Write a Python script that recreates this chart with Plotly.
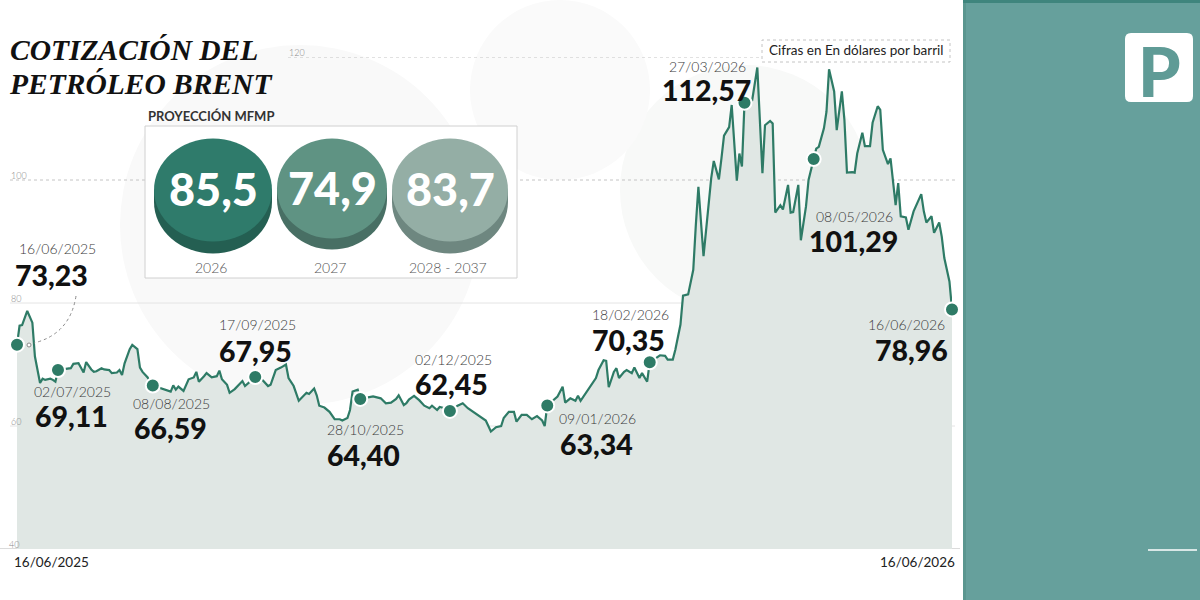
import plotly.graph_objects as go

# ---------------- DATA ----------------
dates = [
    "2025-06-16", "2025-06-17", "2025-06-18", "2025-06-20", "2025-06-22", "2025-06-23", "2025-06-25",
    "2025-06-26", "2025-06-27", "2025-06-29", "2025-06-30", "2025-07-01", "2025-07-02", "2025-07-07",
    "2025-07-08", "2025-07-10", "2025-07-12", "2025-07-13", "2025-07-15", "2025-07-16", "2025-07-17",
    "2025-07-19", "2025-07-20", "2025-07-22", "2025-07-23", "2025-07-25", "2025-07-26", "2025-07-27",
    "2025-07-28", "2025-07-30", "2025-07-31", "2025-08-02", "2025-08-03", "2025-08-04", "2025-08-06",
    "2025-08-07", "2025-08-08", "2025-08-13", "2025-08-15", "2025-08-16", "2025-08-17", "2025-08-18",
    "2025-08-20", "2025-08-22", "2025-08-24", "2025-08-25", "2025-08-26", "2025-08-28", "2025-08-29",
    "2025-08-31", "2025-09-02", "2025-09-03", "2025-09-04", "2025-09-06", "2025-09-07", "2025-09-09",
    "2025-09-10", "2025-09-12", "2025-09-13", "2025-09-15", "2025-09-17", "2025-09-20", "2025-09-22",
    "2025-09-23", "2025-09-25", "2025-09-27", "2025-09-29", "2025-09-30", "2025-10-02", "2025-10-04",
    "2025-10-06", "2025-10-07", "2025-10-08", "2025-10-10", "2025-10-11", "2025-10-12", "2025-10-14",
    "2025-10-16", "2025-10-18", "2025-10-20", "2025-10-21", "2025-10-23", "2025-10-24", "2025-10-25",
    "2025-10-27", "2025-10-28", "2025-11-02", "2025-11-05", "2025-11-07", "2025-11-09", "2025-11-11",
    "2025-11-12", "2025-11-14", "2025-11-15", "2025-11-16", "2025-11-18", "2025-11-20", "2025-11-22",
    "2025-11-24", "2025-11-25", "2025-11-27", "2025-11-28", "2025-11-30", "2025-12-02", "2025-12-05",
    "2025-12-07", "2025-12-09", "2025-12-11", "2025-12-12", "2025-12-14", "2025-12-16", "2025-12-18",
    "2025-12-20", "2025-12-22", "2025-12-23", "2025-12-25", "2025-12-27", "2025-12-28", "2025-12-30",
    "2026-01-01", "2026-01-02", "2026-01-03", "2026-01-05", "2026-01-07", "2026-01-08", "2026-01-09",
    "2026-01-13", "2026-01-15", "2026-01-16", "2026-01-18", "2026-01-20", "2026-01-21", "2026-01-22",
    "2026-01-24", "2026-01-26", "2026-01-28", "2026-01-29", "2026-01-31", "2026-02-01", "2026-02-02",
    "2026-02-04", "2026-02-05", "2026-02-06", "2026-02-08", "2026-02-09", "2026-02-11", "2026-02-12",
    "2026-02-14", "2026-02-15", "2026-02-17", "2026-02-18", "2026-02-22", "2026-02-24", "2026-02-25",
    "2026-02-27", "2026-02-28", "2026-03-02", "2026-03-03", "2026-03-05", "2026-03-07", "2026-03-08",
    "2026-03-09", "2026-03-11", "2026-03-12", "2026-03-14", "2026-03-15", "2026-03-17", "2026-03-18",
    "2026-03-19", "2026-03-21", "2026-03-22", "2026-03-24", "2026-03-25", "2026-03-26", "2026-03-27",
    "2026-03-30", "2026-04-01", "2026-04-03", "2026-04-04", "2026-04-06", "2026-04-07", "2026-04-08",
    "2026-04-10", "2026-04-11", "2026-04-13", "2026-04-14", "2026-04-15", "2026-04-17", "2026-04-18",
    "2026-04-20", "2026-04-21", "2026-04-23", "2026-04-24", "2026-04-25", "2026-04-27", "2026-04-28",
    "2026-04-29", "2026-05-01", "2026-05-02", "2026-05-04", "2026-05-05", "2026-05-06", "2026-05-08",
    "2026-05-09", "2026-05-10", "2026-05-12", "2026-05-13", "2026-05-15", "2026-05-16", "2026-05-18",
    "2026-05-19", "2026-05-20", "2026-05-22", "2026-05-23", "2026-05-25", "2026-05-26", "2026-05-27",
    "2026-05-29", "2026-05-30", "2026-06-01", "2026-06-02", "2026-06-04", "2026-06-05", "2026-06-06",
    "2026-06-08", "2026-06-09", "2026-06-11", "2026-06-12", "2026-06-13", "2026-06-15", "2026-06-16",
]
prices = [
    73.23, 76.3, 76.4, 78.7, 76.8, 71.3, 67.0,
    67.7, 67.5, 67.7, 67.5, 67.2, 69.11, 69.4,
    70.1, 70.2, 68.7, 70.4, 69.2, 68.8, 68.9,
    69.4, 69.2, 69.1, 68.6, 68.7, 69.1, 68.3,
    70.2, 72.5, 73.2, 72.5, 69.5, 68.8, 67.9,
    67.0, 66.59, 65.9, 65.6, 66.6, 65.9, 66.4,
    65.7, 67.6, 67.9, 68.8, 67.2, 68.1, 68.6,
    67.9, 68.1, 69.0, 67.6, 66.7, 65.4, 66.0,
    66.4, 67.3, 66.5, 67.3, 67.95, 67.4, 66.5,
    66.7, 69.1, 69.5, 70.0, 67.8, 66.5, 64.1,
    64.9, 65.4, 65.2, 66.1, 65.0, 63.3, 63.0,
    62.3, 61.1, 61.1, 60.9, 61.3, 62.6, 65.6,
    65.9, 64.40, 64.8, 64.5, 63.7, 63.8, 64.4,
    65.0, 63.4, 63.7, 64.3, 64.9, 64.2, 63.3,
    62.9, 63.3, 62.6, 63.1, 62.9, 62.45, 63.3,
    63.7, 62.9, 62.3, 62.0, 61.4, 60.9, 59.1,
    59.8, 60.0, 61.3, 62.3, 62.3, 60.7, 61.8,
    61.8, 61.5, 61.1, 61.6, 60.9, 60.0, 63.34,
    64.8, 66.4, 63.8, 64.5, 64.1, 64.9, 64.1,
    65.3, 66.7, 67.8, 69.1, 70.7, 70.6, 66.3,
    68.8, 69.4, 67.8, 68.8, 69.1, 68.6, 69.5,
    67.8, 68.6, 67.2, 70.35, 71.5, 71.4, 70.8,
    70.8, 72.4, 76.5, 81.2, 81.4, 85.4, 92.7,
    98.9, 87.6, 91.9, 100.3, 103.1, 100.1, 103.5,
    107.2, 108.6, 112.2, 99.9, 104.3, 102.2, 112.57,
    113.0, 118.3, 101.1, 108.9, 109.6, 109.2, 94.7,
    95.9, 95.2, 99.2, 94.7, 94.8, 99.2, 90.2,
    95.7, 100.0, 103.4, 105.1, 105.4, 108.4, 111.1,
    118.0, 114.4, 108.1, 114.4, 109.8, 101.2, 101.29,
    101.2, 104.3, 107.7, 105.5, 105.5, 109.3, 112.0,
    111.4, 104.9, 102.6, 103.5, 95.9, 99.5, 94.1,
    93.9, 91.9, 94.9, 95.9, 97.7, 94.9, 93.1,
    94.1, 91.4, 93.1, 90.8, 87.3, 83.5, 78.96,
]

dot_dates = ["2025-06-16", "2025-07-02", "2025-08-08", "2025-09-17", "2025-10-28", "2025-12-02",
             "2026-01-09", "2026-02-18", "2026-03-27", "2026-04-23", "2026-06-16"]
label_dates = ["16/06/2025", "02/07/2025", "08/08/2025", "17/09/2025", "28/10/2025", "02/12/2025",
               "09/01/2026", "18/02/2026", "27/03/2026", "08/05/2026", "16/06/2026"]
label_values = [73.23, 69.11, 66.59, 67.95, 64.40, 62.45, 63.34, 70.35, 112.57, 101.29, 78.96]

proj_values = [85.5, 74.9, 83.7]
proj_periods = ["2026", "2027", "2028 - 2037"]

y_ticks = [40, 60, 80, 100, 120]
x_tick_dates = ["2025-06-16", "2026-06-16"]
x_tick_labels = ["16/06/2025", "16/06/2026"]

title_lines = ["COTIZACIÓN DEL", "PETRÓLEO BRENT"]
units_note = "Cifras en En dólares por barril"
proj_title = "PROYECCIÓN MFMP"

# ---------------- STYLE ----------------
W, H = 1200, 600
FONT = "Lato"
LINE = "#2e7b66"
FILL = "#e0e7e4"
PANEL = "#66a09c"


def px(x):
    return x / W


def py(y):
    return 1 - y / H


def comma(v, nd):
    return f"{v:.{nd}f}".replace(".", ",")


fig = go.Figure()

fig.add_trace(go.Scatter(
    x=dates, y=prices, mode="lines",
    line=dict(color=LINE, width=2.2, shape="linear"),
    fill="tozeroy", fillcolor=FILL, hoverinfo="skip", showlegend=False,
))

price_of = dict(zip(dates, prices))
dot_vals = [price_of[d] for d in dot_dates]
fig.add_trace(go.Scatter(
    x=dot_dates, y=dot_vals, mode="markers",
    marker=dict(size=14, color=LINE, line=dict(color="white", width=2)),
    cliponaxis=False, hoverinfo="skip", showlegend=False,
))

shapes = []
annotations = []

# very faint decorative background discs
for cx, cy, r, col in [(300, 225, 180, "#f9f9f9"), (745, 190, 125, "#f8f9f8"), (560, 90, 90, "#fafafa")]:
    shapes.append(dict(type="circle", xref="paper", yref="paper", layer="below",
                       x0=px(cx - r), x1=px(cx + r), y0=py(cy + r), y1=py(cy - r),
                       fillcolor=col, line=dict(width=0)))

# gridlines + tick labels
grid_start = {120: 288, 100: 10, 80: 10, 60: 10, 40: 0}
grid_end = {120: 760, 100: 955, 80: 955, 60: 955, 40: 960}
for t in y_ticks:
    if t == 40:
        ln = dict(color="#cfcfcf", width=1.5)
    elif t >= 100:
        ln = dict(color="#c4c4c4", width=1, dash="dot")
    else:
        ln = dict(color="#e4e4e4", width=1)
    shapes.append(dict(type="line", xref="paper", yref="y", layer="below",
                       x0=px(grid_start[t]), x1=px(grid_end[t]), y0=t, y1=t, line=ln))
    annotations.append(dict(xref="paper", yref="y", x=px(grid_start[t] if t != 40 else 8), y=t,
                            yshift=4.5, xanchor="left", yanchor="middle", showarrow=False, borderpad=0,
                            text=str(t), font=dict(family=FONT, size=9, color="#8a8a8a", weight=300)))

# x labels
for d, lab, anc, sh in zip(x_tick_dates, x_tick_labels, ["left", "right"], [-5, 5]):
    annotations.append(dict(xref="x", yref="paper", x=d, y=py(562), xshift=sh,
                            xanchor=anc, yanchor="middle", showarrow=False, text=lab,
                            font=dict(family=FONT, size=13.5, color="#222222")))

# point labels (offsets in px relative to the dot: dx, dy downward)
label_style = [
    ("left", 1, -96, -3, -70),
    ("center", 15, 21.5, 13.5, 46),
    ("center", 18.7, 18, 17.7, 42.5),
    ("center", 1.8, -52.5, 0.3, -26.5),
    ("center", 5.7, 30.5, 3.7, 56),
    ("center", 4, -51.5, 2, -26.5),
    ("center", 50, 13, 49, 38.5),
    ("center", -19.7, -47.8, -21, -22.5),
    ("center", -37, -36, -38.5, -13),
    ("center", 40.8, 57.5, 39.8, 82),
    ("right", -6, 15, -3, 40.5),
]
for d, v, ld, lv, (anc, ddx, ddy, vdx, vdy) in zip(dot_dates, dot_vals, label_dates, label_values, label_style):
    annotations.append(dict(xref="x", yref="y", x=d, y=v, xshift=ddx, yshift=-ddy,
                            xanchor=anc, yanchor="middle", showarrow=False, text=ld, borderpad=0,
                            font=dict(family=FONT, size=14, color="#3a3a3a", weight=300)))
    annotations.append(dict(xref="x", yref="y", x=d, y=v, xshift=vdx, yshift=-vdy,
                            xanchor=anc, yanchor="middle", showarrow=False, text=comma(lv, 2), borderpad=0,
                            font=dict(family=FONT, size=28.5, color="#111111", weight=900)))

# dotted pointer from first label to first dot
shapes.append(dict(type="path", xref="paper", yref="paper", layer="above",
                   path=f"M {px(76)} {py(296)} Q {px(70)} {py(334)} {px(34)} {py(343)}",
                   line=dict(color="#8a8a8a", width=1, dash="dot")))
shapes.append(dict(type="circle", xref="paper", yref="paper", layer="above",
                   x0=px(27), x1=px(31), y0=py(347), y1=py(343),
                   line=dict(color="#8a8a8a", width=1), fillcolor="white"))

# title: one text block, line pitch from the block font, glyph size from the spans
title_txt = "<br>".join(f"<span style='font-size:29.5px'>{t}</span>" for t in title_lines)
annotations.append(dict(xref="paper", yref="paper", x=px(8), y=py(67),
                        xanchor="left", yanchor="middle", showarrow=False, text=title_txt,
                        align="left", borderpad=0,
                        font=dict(family="Liberation Serif", size=26, color="#111111",
                                  style="italic", weight=700)))

# units note with dotted frame
shapes.append(dict(type="rect", xref="paper", yref="paper", layer="above",
                   x0=px(762), x1=px(950), y0=py(62), y1=py(40),
                   line=dict(color="#c4c4c4", width=1, dash="dot"), fillcolor="rgba(255,255,255,0.6)"))
annotations.append(dict(xref="paper", yref="paper", x=px(856), y=py(50), xanchor="center",
                        yanchor="middle", showarrow=False, text=units_note,
                        font=dict(family=FONT, size=13.5, color="#222222")))

# projection box
shapes.append(dict(type="rect", xref="paper", yref="paper", layer="above",
                   x0=px(145), x1=px(517), y0=py(278), y1=py(126),
                   line=dict(color="#d0d0d0", width=1), fillcolor="white"))
annotations.append(dict(xref="paper", yref="paper", x=px(146), y=py(116), xanchor="left",
                        yanchor="middle", showarrow=False, text=proj_title,
                        font=dict(family=FONT, size=13, color="#333333", weight=700)))
coin_geom = [(213, 59, 51.5, 12), (332, 55, 50, 11), (450, 58, 51.5, 12)]
coin_cols = [("#2f7b6b", "#245f52"), ("#5f9383", "#486f64"), ("#94aea5", "#6e8780")]
for val, per, (cx, rx, ry, off), (top, side) in zip(proj_values, proj_periods, coin_geom, coin_cols):
    cy = 138.5 + ry
    shapes.append(dict(type="circle", xref="paper", yref="paper", layer="above",
                       x0=px(cx - rx), x1=px(cx + rx), y0=py(cy + off + ry), y1=py(cy + off - ry),
                       fillcolor=side, line=dict(width=0)))
    shapes.append(dict(type="rect", xref="paper", yref="paper", layer="above",
                       x0=px(cx - rx), x1=px(cx + rx), y0=py(cy + off), y1=py(cy),
                       fillcolor=side, line=dict(width=0)))
    shapes.append(dict(type="circle", xref="paper", yref="paper", layer="above",
                       x0=px(cx - rx), x1=px(cx + rx), y0=py(cy + ry), y1=py(cy - ry),
                       fillcolor=top, line=dict(width=0)))
    annotations.append(dict(xref="paper", yref="paper", x=px(cx), y=py(cy - 1), xanchor="center",
                            yanchor="middle", showarrow=False, text=comma(val, 1),
                            font=dict(family=FONT, size=45, color="white", weight=900)))
    annotations.append(dict(xref="paper", yref="paper", x=px(cx - 2), y=py(267), xanchor="center",
                            yanchor="middle", showarrow=False, text=per,
                            font=dict(family=FONT, size=14, color="#555555", weight=300)))

# right panel
shapes.append(dict(type="rect", xref="paper", yref="paper", layer="above",
                   x0=px(963), x1=1, y0=0, y1=1, fillcolor=PANEL, line=dict(width=0)))
shapes.append(dict(type="rect", xref="paper", yref="paper", layer="above",
                   x0=px(963), x1=px(966), y0=0, y1=1, fillcolor="#5a968f", line=dict(width=0)))
shapes.append(dict(type="rect", xref="paper", yref="paper", layer="above",
                   x0=px(963), x1=1, y0=py(3), y1=1, fillcolor="#3f857d", line=dict(width=0)))


def rrect(x0, y0, x1, y1, r):
    rx, ry = r / W, r / H
    a, b, c, d = px(x0), px(x1), py(y1), py(y0)
    return (f"M {a + rx} {c} L {b - rx} {c} Q {b} {c} {b} {c + ry} L {b} {d - ry} "
            f"Q {b} {d} {b - rx} {d} L {a + rx} {d} Q {a} {d} {a} {d - ry} L {a} {c + ry} "
            f"Q {a} {c} {a + rx} {c} Z")


shapes.append(dict(type="path", xref="paper", yref="paper", layer="above",
                   path=rrect(1125, 33, 1193, 102, 6), fillcolor="white", line=dict(width=0)))
annotations.append(dict(xref="paper", yref="paper", x=px(1159), y=py(70), xanchor="center",
                        yanchor="middle", showarrow=False, text="P",
                        font=dict(family=FONT, size=68, color="#5f9b96", weight=900)))
shapes.append(dict(type="line", xref="paper", yref="paper", layer="above",
                   x0=px(1148), x1=px(1197), y0=py(550), y1=py(550),
                   line=dict(color="white", width=1.5)))

fig.update_layout(
    width=W, height=H,
    margin=dict(l=0, r=0, t=0, b=0),
    paper_bgcolor="white", plot_bgcolor="rgba(0,0,0,0)",
    xaxis=dict(domain=[px(17), px(952)], range=[dates[0], dates[-1]], type="date",
               visible=False, showgrid=False, zeroline=False, fixedrange=True),
    yaxis=dict(domain=[py(549), py(57)], range=[40, 120], visible=False,
               showgrid=False, zeroline=False, fixedrange=True),
    shapes=shapes, annotations=annotations, showlegend=False,
    font=dict(family=FONT),
)

fig.write_html("out.html", config={"displayModeBar": False, "staticPlot": True},
               post_script="document.body.style.margin='0';document.body.style.overflow='hidden';")
